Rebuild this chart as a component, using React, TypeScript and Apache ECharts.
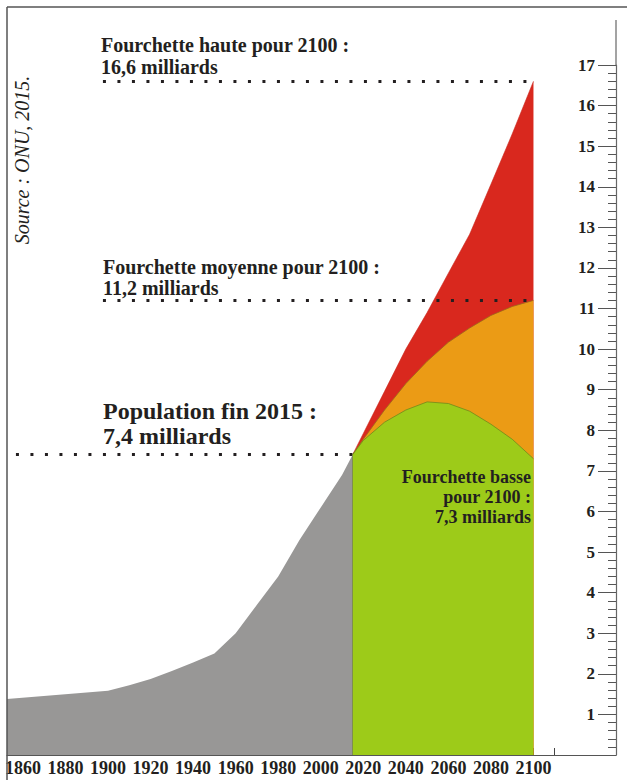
import React, { useEffect, useRef } from 'react';
import * as echarts from 'echarts';

// Historical world population (billions)
const histYears = [1850, 1900, 1910, 1920, 1930, 1940, 1950, 1960, 1970, 1980, 1990, 2000, 2010, 2015];
const histPop = [1.37, 1.58, 1.72, 1.87, 2.07, 2.28, 2.5, 3.0, 3.7, 4.4, 5.3, 6.1, 6.9, 7.4];

// UN projections (billions)
const projYears = [2015, 2020, 2030, 2040, 2050, 2060, 2070, 2080, 2090, 2100];
const highProj = [7.4, 7.92, 8.96, 10.0, 10.9, 11.87, 12.83, 14.06, 15.3, 16.6];
const mediumProj = [7.4, 7.78, 8.5, 9.15, 9.7, 10.17, 10.52, 10.83, 11.05, 11.2];
const lowProj = [7.4, 7.75, 8.2, 8.5, 8.7, 8.66, 8.47, 8.15, 7.78, 7.3];

// Axis ticks / labels
const xTickYears = [1860, 1870, 1880, 1890, 1900, 1910, 1920, 1930, 1940, 1950, 1960, 1970, 1980, 1990, 2000, 2010, 2020, 2030, 2040, 2050, 2060, 2070, 2080, 2090, 2100, 2110];
const xLabelYears = [1860, 1880, 1900, 1920, 1940, 1960, 1980, 2000, 2020, 2040, 2060, 2080, 2100];

// Dotted reference lines: [fromYear, toYear, value]
const refFrom = [1897.6, 1897.6, 1856.7, 2034.9];
const refTo = [2100, 2100, 2015, 2097.5];
const refValue = [16.6, 11.2, 7.4, 7.3];

// Annotation texts
const highText = ['Fourchette haute pour 2100 :', '16,6 milliards'];
const mediumText = ['Fourchette moyenne pour 2100 :', '11,2 milliards'];
const popText = ['Population fin 2015 :', '7,4 milliards'];
const lowText = ['Fourchette basse', 'pour 2100 :', '7,3 milliards'];
const sourceText = 'Source : ONU, 2015.';

const zip = (xs: number[], ys: number[]) => xs.map((x, i) => [x, ys[i]]);

export default function App() {
  const ref = useRef<HTMLDivElement>(null);
  useEffect(() => {
    document.body.style.margin = '0';
    const chart = echarts.init(ref.current!, null, { renderer: 'svg' });
    const serif = '"Liberation Serif", serif';
    const ink = '#231f20';
    const bold = (s: number) => `bold ${s}px "Liberation Serif", serif`;
    const txt = (text: string, x: number, y: number, size: number, align = 'left') => ({
      type: 'text',
      x,
      y,
      z: 100,
      silent: true,
      style: { text, font: bold(size), fill: ink, textAlign: align, textVerticalAlign: 'middle' },
    });

    chart.setOption({
      animation: false,
      grid: { left: 7, right: 11, top: 65, bottom: 25, containLabel: false, outerBoundsMode: 'none' },
      xAxis: {
        type: 'value',
        min: 1852.5,
        max: 2138.8,
        axisLine: { show: true, onZero: false, lineStyle: { color: '#555', width: 1.2 } },
        axisTick: { show: true, inside: true, length: 7, customValues: xTickYears, lineStyle: { color: '#444', width: 1 } },
        axisLabel: {
          customValues: xLabelYears,
          margin: 4,
          hideOverlap: false,
          fontFamily: serif,
          fontWeight: 'bold',
          fontSize: 18,
          color: ink,
          formatter: (v: number) => String(v),
        },
        splitLine: { show: false },
      },
      yAxis: {
        type: 'value',
        position: 'right',
        min: 0,
        max: 17,
        interval: 1,
        axisLine: { show: true, lineStyle: { color: '#666', width: 1.2 } },
        axisTick: { show: true, inside: true, length: 18, lineStyle: { color: '#555', width: 1 } },
        minorTick: { show: true, splitNumber: 5, length: 8, lineStyle: { color: '#555', width: 1 } },
        axisLabel: {
          inside: true,
          margin: 21,
          showMinLabel: false,
          fontFamily: serif,
          fontWeight: 'bold',
          fontSize: 17,
          color: ink,
        },
        splitLine: { show: false },
      },
      series: [
        {
          type: 'line',
          data: zip(histYears, histPop),
          symbol: 'none',
          lineStyle: { width: 0, color: '#989796' },
          areaStyle: { color: '#989796', opacity: 1 },
          z: 2,
          silent: true,
        },
        {
          type: 'line',
          data: zip(projYears, highProj),
          symbol: 'none',
          lineStyle: { width: 0.6, color: '#c9281e' },
          areaStyle: { color: '#d9281e', opacity: 1 },
          z: 3,
          silent: true,
        },
        {
          type: 'line',
          data: zip(projYears, mediumProj),
          symbol: 'none',
          lineStyle: { width: 0.8, color: '#9a6a1c' },
          areaStyle: { color: '#eb9b15', opacity: 1 },
          z: 4,
          silent: true,
        },
        {
          type: 'line',
          data: zip(projYears, lowProj),
          symbol: 'none',
          lineStyle: { width: 0.8, color: '#6f8a1c' },
          areaStyle: { color: '#9dcb19', opacity: 1 },
          z: 5,
          silent: true,
        },
        {
          type: 'line',
          data: [],
          z: 6,
          silent: true,
          markLine: {
            silent: true,
            symbol: ['none', 'none'],
            label: { show: false },
            emphasis: { disabled: true },
            lineStyle: { type: [3, 11.5], width: 3, color: ink },
            data: [
              ...refValue.map((v, i) => [{ coord: [refFrom[i], v] }, { coord: [refTo[i], v] }]),
              [
                { coord: [histYears[histYears.length - 1], 0], lineStyle: { type: 'solid', width: 1, color: '#707070' } },
                { coord: [histYears[histYears.length - 1], histPop[histPop.length - 1]] },
              ],
            ],
          },
        },
      ],
      graphic: [
        { type: 'line', z: 100, silent: true, shape: { x1: 616, y1: 20, x2: 616, y2: 65 }, style: { stroke: '#666', lineWidth: 1.2 } },
        { type: 'line', z: 100, silent: true, shape: { x1: 7, y1: 7, x2: 627, y2: 7 }, style: { stroke: '#555', lineWidth: 1.5 } },
        { type: 'line', z: 100, silent: true, shape: { x1: 7, y1: 7, x2: 7, y2: 780 }, style: { stroke: '#555', lineWidth: 1.5 } },
        txt(highText[0], 101, 45, 20),
        txt(highText[1], 101, 67, 20),
        txt(mediumText[0], 103, 267, 20),
        txt(mediumText[1], 103, 288, 20),
        txt(popText[0], 103, 411, 24),
        txt(popText[1], 103, 436, 24),
        txt(lowText[0], 531, 477, 18, 'right'),
        txt(lowText[1], 531, 497, 18, 'right'),
        txt(lowText[2], 531, 517, 18, 'right'),
        {
          type: 'text',
          x: 22,
          y: 160,
          rotation: Math.PI / 2,
          z: 100,
          silent: true,
          style: { text: sourceText, font: 'italic 20px "Liberation Serif", serif', fill: ink, textAlign: 'center', textVerticalAlign: 'middle' },
        },
      ],
    });
    return () => chart.dispose();
  }, []);
  return <div ref={ref} style={{ width: 627, height: 780 }} />;
}
